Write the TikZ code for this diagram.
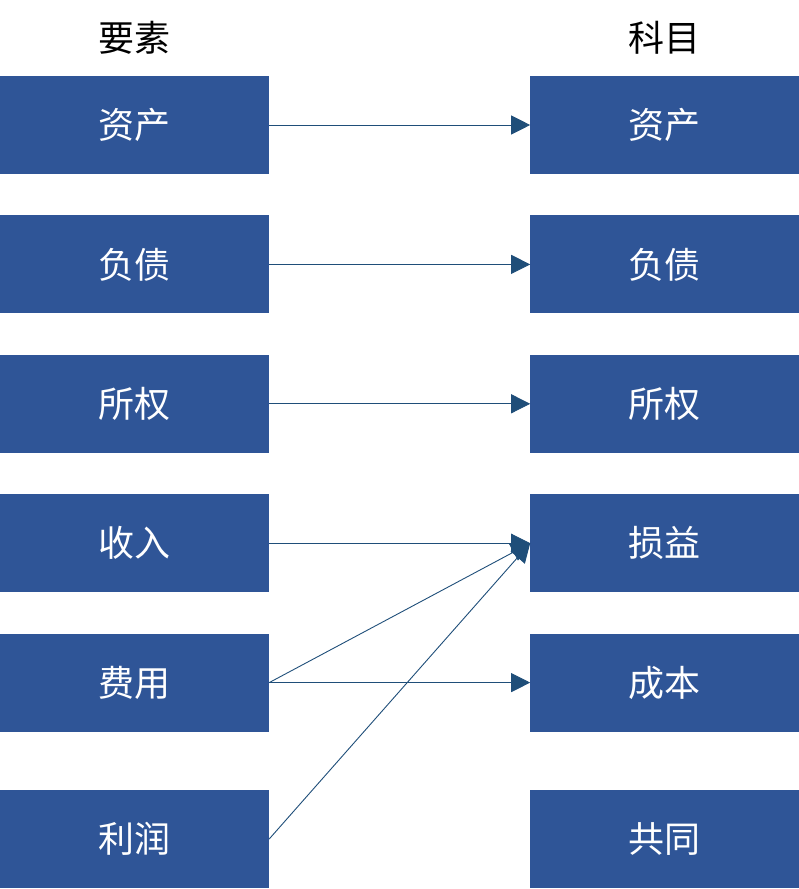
\documentclass[tikz,border=0pt]{standalone}
\usepackage{fontspec}
\newfontfamily\cjk{Noto Sans CJK SC}
\usetikzlibrary{positioning,arrows.meta}
\definecolor{boxblue}{HTML}{2F5597}
\definecolor{arrblue}{HTML}{1F4E79}
\tikzset{
    elem/.style={rectangle, minimum width=269pt, minimum height=98pt, inner sep=0pt, fill=boxblue, text=white, font=\cjk\fontsize{36}{40}\selectfont},
    head/.style={font=\cjk\fontsize{36}{40}\selectfont, inner sep=0pt},
    arr/.style={draw=arrblue, line width=0.9pt, -{Triangle[length=19pt,width=19pt]}}
    }
\begin{document}
\begin{tikzpicture}[x=1pt, y=-1pt, node distance=41pt]
        \useasboundingbox (0,0) rectangle (799,889);
        % left column
        \node[elem] at (134.5,125) (zc) {资产};
        \node[elem, below=of zc] (fz) {负债};
        \node[elem, below=of fz] (sq) {所权};
        \node[elem, below=of sq] (sr) {收入};
        \node[elem, below=of sr] (fy) {费用};
        \node[elem, below=58pt of fy] (lr) {利润};
        \node[head, above=21pt of zc] (ys) {要素};
        % right column
        \node[elem, right=261pt of zc] (kzc) {资产};
        \node[elem, below=of kzc] (kfz) {负债};
        \node[elem, below=of kfz] (ksq) {所权};
        \node[elem, below=of ksq] (ksy) {损益};
        \node[elem, below=of ksy] (kcb) {成本};
        \node[elem, below=58pt of kcb] (kgt) {共同};
        \node[head, above=21pt of kzc] (km) {科目};

        \draw[arr] (zc.east) -- (kzc.west);
        \draw[arr] (fz.east) -- (kfz.west);
        \draw[arr] (sq.east) -- (ksq.west);
        \draw[arr] (sr.east) -- (ksy.west);
        \draw[arr] (fy.east) -- (ksy.west);
        \draw[arr] (fy.east) -- (kcb.west);
        \draw[arr] (lr.east) -- (ksy.west);
    \end{tikzpicture}
\end{document}
